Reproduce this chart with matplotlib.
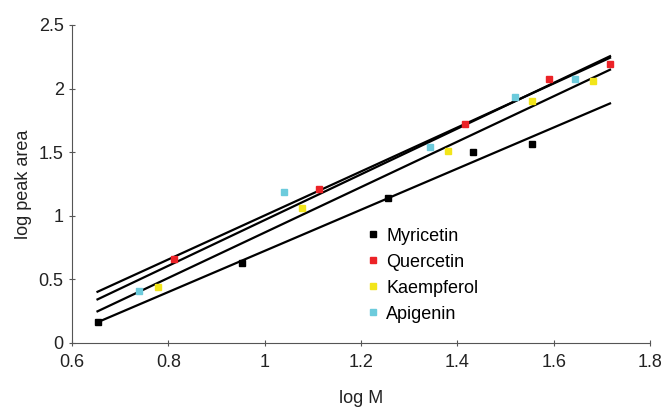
import matplotlib
matplotlib.use('Agg')
import matplotlib.pyplot as plt
import numpy as np

plt.rcParams['font.family'] = ['Liberation Sans Narrow', 'Liberation Sans', 'DejaVu Sans']

# Data (log M, log peak area)
series_names = ['Myricetin', 'Quercetin', 'Kaempferol', 'Apigenin']
colours = ['#000000', '#ec2227', '#f2e51a', '#6ccbdc']

myricetin_x = [0.653, 0.953, 1.257, 1.432, 1.556]
myricetin_y = [0.163, 0.627, 1.138, 1.500, 1.561]
quercetin_x = [0.812, 1.113, 1.416, 1.590, 1.717]
quercetin_y = [0.661, 1.209, 1.718, 2.077, 2.193]
kaempferol_x = [0.778, 1.078, 1.381, 1.556, 1.681]
kaempferol_y = [0.441, 1.060, 1.511, 1.899, 2.057]
apigenin_x = [0.740, 1.041, 1.343, 1.520, 1.645]
apigenin_y = [0.407, 1.188, 1.540, 1.933, 2.075]

xs = [myricetin_x, quercetin_x, kaempferol_x, apigenin_x]
ys = [myricetin_y, quercetin_y, kaempferol_y, apigenin_y]

fig = plt.figure(figsize=(6.64, 4.07), dpi=100)
ax = fig.add_axes([0.1084, 0.158, 0.8705, 0.7806])

# trendlines over the full data range
allx = np.concatenate([np.array(x) for x in xs])
xfit = np.array([allx.min(), allx.max()])
for x, y in zip(xs, ys):
    k, b = np.polyfit(x, y, 1)
    ax.plot(xfit, k * xfit + b, color='black', lw=1.6, zorder=2)

for x, y, c, name in zip(xs, ys, colours, series_names):
    ax.plot(x, y, 's', color=c, ms=5, mec=c, label=name, zorder=3, ls='none')

ax.set_xlim(0.6, 1.8)
ax.set_ylim(0, 2.5)
ax.set_xticks(np.arange(0.6, 1.81, 0.2))
ax.set_xticklabels(['0.6', '0.8', '1', '1.2', '1.4', '1.6', '1.8'])
ax.set_yticks(np.arange(0, 2.51, 0.5))
ax.set_yticklabels(['0', '0.5', '1', '1.5', '2', '2.5'])

for s in ['top', 'right']:
    ax.spines[s].set_visible(False)
for s in ['left', 'bottom']:
    ax.spines[s].set_color('#555555')
ax.tick_params(direction='inout', length=5, color='#555555', labelsize=13,
               labelcolor='#222222')
ax.tick_params(axis='x', pad=6)

ax.set_xlabel('log M', fontsize=13, color='#222222', labelpad=13)
ax.set_ylabel('log peak area', fontsize=13, color='#222222', labelpad=5)

ax.legend(loc='upper left', bbox_to_anchor=(0.481, 0.413), frameon=False,
          fontsize=13, handlelength=0.8, handletextpad=0.3,
          labelspacing=0.5, markerscale=1.0)

fig.savefig('out.png', dpi=100)
